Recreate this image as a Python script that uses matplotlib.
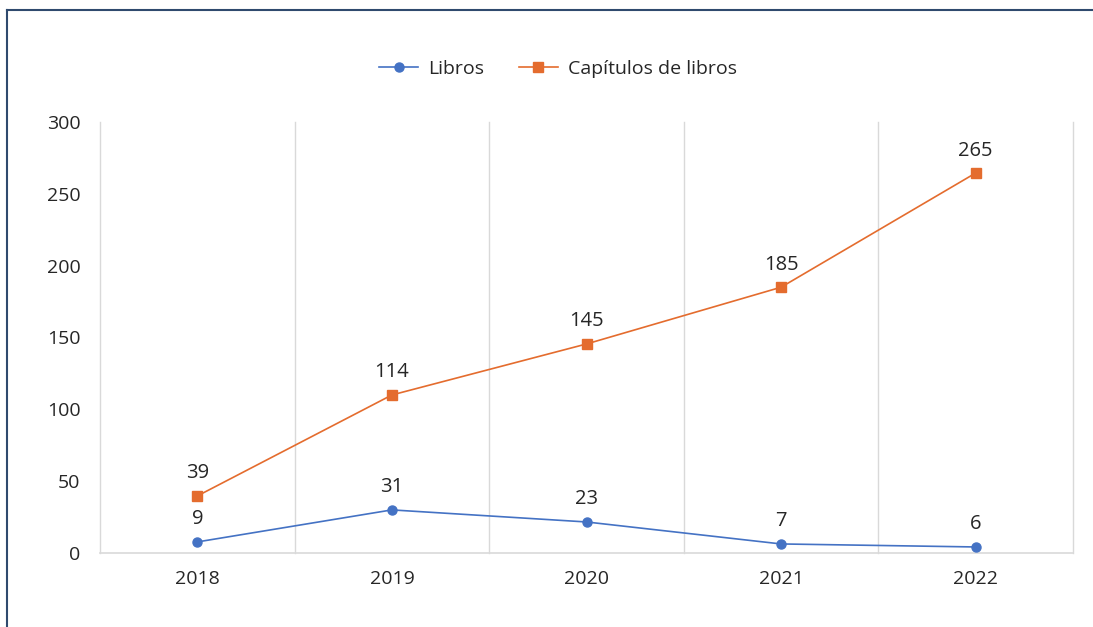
import matplotlib
matplotlib.use("Agg")
import matplotlib.pyplot as plt
from matplotlib.lines import Line2D

# data
years = ["2018", "2019", "2020", "2021", "2022"]
libros = [7.7, 30, 21.6, 6.3, 4.2]
libros_labels = ["9", "31", "23", "7", "6"]
capitulos = [39.7, 110, 145.5, 185, 264.5]
capitulos_labels = ["39", "114", "145", "185", "265"]
y_ticks = [0, 50, 100, 150, 200, 250, 300]

blue = "#4472C4"
orange = "#E46C2E"
grid_col = "#D9D9D9"
txt_col = "#262626"

plt.rcParams["font.family"] = ["Open Sans", "DejaVu Sans"]

fig = plt.figure(figsize=(10.93, 6.27), dpi=100)
ax = fig.add_axes([100 / 1093, 1 - 553 / 627, 973 / 1093, 431 / 627])

x = list(range(len(years)))
ax.plot(x, libros, color=blue, lw=1.2, marker="o", ms=6.5, label="Libros", zorder=3)
ax.plot(x, capitulos, color=orange, lw=1.2, marker="s", ms=7, label="Capítulos de libros", zorder=3)

for xi, v, t in zip(x, libros, libros_labels):
    ax.annotate(t, (xi, v), xytext=(0, 9), textcoords="offset points",
                ha="center", va="bottom", fontsize=14.5, color=txt_col)
for xi, v, t in zip(x, capitulos, capitulos_labels):
    ax.annotate(t, (xi, v), xytext=(0, 9), textcoords="offset points",
                ha="center", va="bottom", fontsize=14.5, color=txt_col)

ax.set_xlim(-0.5, len(years) - 0.5)
ax.set_ylim(0, 300)
ax.set_yticks(y_ticks)
ax.set_xticks(x)
ax.set_xticklabels(years)

# vertical separators between categories
for b in [i - 0.5 for i in range(len(years) + 1)]:
    ax.axvline(b, color=grid_col, lw=1, zorder=1, clip_on=False)

for s in ["top", "right", "left"]:
    ax.spines[s].set_visible(False)
ax.spines["bottom"].set_color(grid_col)
ax.spines["bottom"].set_linewidth(1.2)
ax.tick_params(axis="both", length=0, labelsize=14, colors=txt_col)
ax.tick_params(axis="y", pad=14)
ax.tick_params(axis="x", pad=12)

leg = fig.legend(loc="center", bbox_to_anchor=(558 / 1093, 1 - 69 / 627), ncol=2,
                 frameon=False, fontsize=14, handlelength=2.0, columnspacing=1.8,
                 handletextpad=0.5)
for t in leg.get_texts():
    t.set_color(txt_col)

# outer frame (top and left edges visible)
fig.add_artist(Line2D([7 / 1093, 1], [1 - 10 / 627, 1 - 10 / 627], color="#2F4A6E", lw=1.5))
fig.add_artist(Line2D([7 / 1093, 7 / 1093], [0, 1 - 10 / 627], color="#2F4A6E", lw=1.5))

fig.savefig("out.png", dpi=100)
